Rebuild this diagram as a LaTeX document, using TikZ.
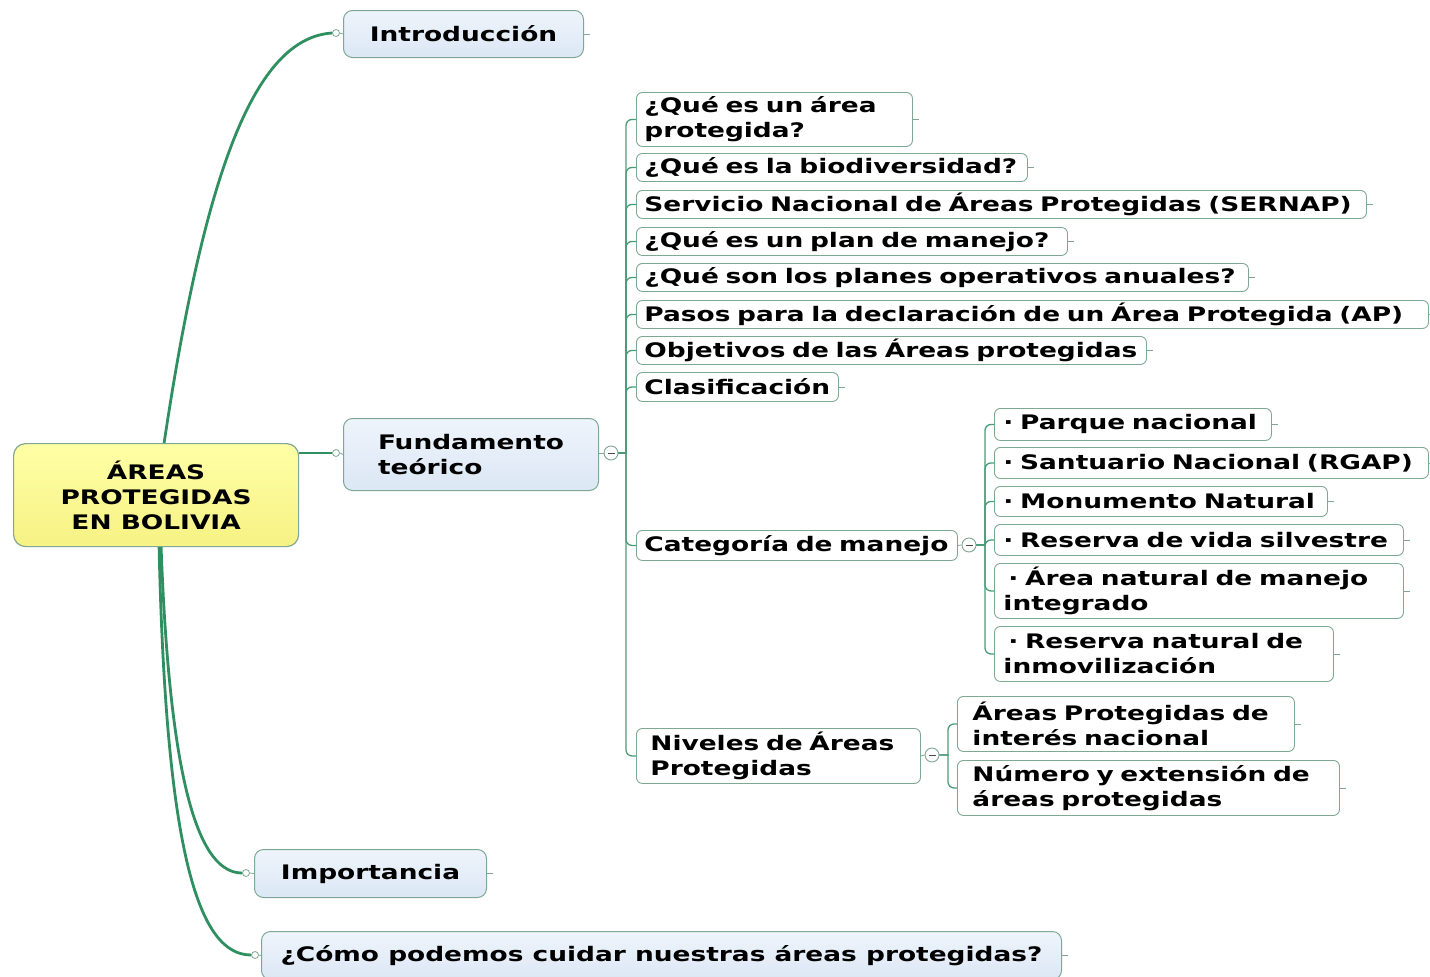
\documentclass[tikz,border=0pt]{standalone}
\usepackage{fontspec}
\setmainfont{DejaVu Sans}
\newfontfamily\vbfont{DejaVu Sans}[FakeStretch=1.32]
\newcommand\nb[1]{\mbox{#1}}
\usetikzlibrary{calc}
\definecolor{lnk}{HTML}{2F8F60}
\definecolor{slnk}{HTML}{4A9C78}
\definecolor{bord}{HTML}{7FA894}
\definecolor{rootA}{HTML}{FFFFA6}
\definecolor{rootB}{HTML}{F6F284}
\definecolor{mainA}{HTML}{EEF4FB}
\definecolor{mainB}{HTML}{DCE7F5}
\tikzset{
  txt/.style={font=\fontsize{20}{25}\selectfont\vbfont\bfseries},
  rootbox/.style={txt, draw=bord, line width=1.2pt, rounded corners=12pt, top color=rootA, bottom color=rootB, align=center, anchor=north west, inner sep=0pt},
  mainbox/.style={txt, draw=bord, line width=1pt, rounded corners=9pt, top color=mainA, bottom color=mainB, align=left, anchor=north west, inner sep=0pt},
  subbox/.style={txt, draw=bord, line width=0.9pt, rounded corners=6pt, fill=white, align=left, anchor=north west, inner ysep=0pt},
  mainlink/.style={draw=lnk, line width=2.8pt},
  sublink/.style={draw=slnk, line width=1.3pt},
  linkdot/.style={circle, draw=bord, fill=white, line width=0.8pt, minimum size=7pt, inner sep=0pt},
  colldot/.style={circle, draw=bord, fill=white, line width=0.9pt, minimum size=14pt, inner sep=0pt,
    path picture={\draw[black!70, line width=1pt] ([xshift=-3.5pt]path picture bounding box.center) -- ([xshift=3.5pt]path picture bounding box.center);}},
  stub/.style={draw=bord, line width=0.8pt}
}
\begin{document}
\begin{tikzpicture}[x=1pt,y=-1pt]
\useasboundingbox (0,0) rectangle (1430,977);

% root
\node[rootbox, minimum width=285pt, minimum height=103pt] (root) at (13,443) {ÁREAS\\PROTEGIDAS\\EN BOLIVIA};

% main topics
\node[mainbox, minimum width=240pt, minimum height=47pt] (intro) at (343,10) {Introducción};
\node[mainbox, minimum width=255pt, minimum height=72pt] (fund) at (343,418) {Fundamento\\teórico};
\node[mainbox, minimum width=232pt, minimum height=48pt] (imp) at (254,849) {Importancia};
\node[mainbox, minimum width=800pt, minimum height=48pt] (como) at (261,931) {\nb{¿Cómo podemos cuidar nuestras áreas protegidas?}};

% link dots
\node[linkdot] (d1) at (336,33) {};
\node[linkdot] (d2) at (336,453) {};
\node[linkdot] (d3) at (246,873) {};
\node[linkdot] (d4) at (255,955) {};

% main links
\draw[mainlink] ([xshift=8pt]root.north) .. controls (205,170) and (255,38) .. (d1.west);
\draw[mainlink] (root.east |- d2) -- (d2.west);
\draw[mainlink] ([xshift=5pt]root.south) .. controls (170,790) and (200,873) .. (d3.west);
\draw[mainlink] ([xshift=3pt]root.south) .. controls (166,860) and (200,955) .. (d4.west);
\foreach \d/\n in {d1/intro,d2/fund,d3/imp,d4/como} \draw[stub] (\d.east) -- (\n.west);

% subtopics of Fundamento
\node[subbox, inner xsep=8pt, text width=260pt, minimum height=54pt] (s1) at (636,92) {\nb{¿Qué es un área}\\\nb{protegida?}};
\node[subbox, inner xsep=8pt, text width=375pt, minimum height=28pt] (s2) at (636,153) {\nb{¿Qué es la biodiversidad?}};
\node[subbox, inner xsep=8pt, text width=714pt, minimum height=28pt] (s3) at (636,190) {\nb{Servicio Nacional de Áreas Protegidas (SERNAP)}};
\node[subbox, inner xsep=8pt, text width=415pt, minimum height=28pt] (s4) at (636,227) {\nb{¿Qué es un plan de manejo?}};
\node[subbox, inner xsep=8pt, text width=596pt, minimum height=28pt] (s5) at (636,263) {\nb{¿Qué son los planes operativos anuales?}};
\node[subbox, inner xsep=8pt, text width=776pt, minimum height=28pt] (s6) at (636,300) {\nb{Pasos para la declaración de un Área Protegida (AP)}};
\node[subbox, inner xsep=8pt, text width=494pt, minimum height=28pt] (s7) at (636,336) {\nb{Objetivos de las Áreas protegidas}};
\node[subbox, inner xsep=8pt, text width=186pt, minimum height=29pt] (s8) at (636,372) {\nb{Clasificación}};
\node[subbox, inner xsep=8pt, text width=305pt, minimum height=30pt] (cat) at (636,530) {\nb{Categoría de manejo}};
\node[subbox, inner xsep=14pt, text width=256pt, minimum height=55pt] (niv) at (636,728) {\nb{Niveles de Áreas}\\\nb{Protegidas}};

% Categoria children
\node[subbox, inner xsep=9pt, text width=259pt, minimum height=32pt] (c1) at (994,408) {\nb{· Parque nacional}};
\node[subbox, inner xsep=9pt, text width=416pt, minimum height=31pt] (c2) at (994,447) {\nb{· Santuario Nacional (RGAP)}};
\node[subbox, inner xsep=9pt, text width=315pt, minimum height=30pt] (c3) at (994,486) {\nb{· Monumento Natural}};
\node[subbox, inner xsep=9pt, text width=391pt, minimum height=31pt] (c4) at (994,524) {\nb{· Reserva de vida silvestre}};
\node[subbox, inner xsep=9pt, text width=391pt, minimum height=55pt] (c5) at (994,563) {\nb{\hspace{5pt}· Área natural de manejo}\\\nb{integrado}};
\node[subbox, inner xsep=9pt, text width=321pt, minimum height=55pt] (c6) at (994,626) {\nb{\hspace{5pt}· Reserva natural de}\\\nb{inmovilización}};

% Niveles children
\node[subbox, inner xsep=15pt, text width=307pt, minimum height=55pt] (n1) at (957,696) {\nb{Áreas Protegidas de}\\\nb{interés nacional}};
\node[subbox, inner xsep=15pt, text width=352pt, minimum height=55pt] (n2) at (957,760) {\nb{Número y extensión de}\\\nb{áreas protegidas}};

% collapse dots
\node[colldot] (fdot) at (611,453) {};
\node[colldot] (cdot) at (969,545) {};
\node[colldot] (ndot) at (932,755) {};
\draw[stub] (fund.east |- fdot) -- (fdot.west);
\draw[stub] (cat.east) -- (cdot.west);
\draw[stub] (niv.east) -- (ndot.west);

% buses
\coordinate (bx) at (626,0);
\coordinate (cx) at (985,0);
\coordinate (nx) at (948,0);
\foreach \c in {s1,s2,s3,s4,s5,s6,s7,s8,cat,niv}
  \draw[sublink] (fdot.east) -- (fdot.east -| bx) [rounded corners=6pt] |- (\c.west);
\foreach \c in {c1,c2,c3,c4,c5,c6}
  \draw[sublink] (cdot.east) -- (cdot.east -| cx) [rounded corners=6pt] |- (\c.west);
\foreach \c in {n1,n2}
  \draw[sublink] (ndot.east) -- (ndot.east -| nx) [rounded corners=6pt] |- (\c.west);

% stubs on leaf nodes
\foreach \n in {intro,imp,como,s1,s2,s3,s4,s5,s6,s7,s8,c1,c2,c3,c4,c5,c6,n1,n2}
  \draw[stub] (\n.east) -- ++(6,0);
\end{tikzpicture}
\end{document}
